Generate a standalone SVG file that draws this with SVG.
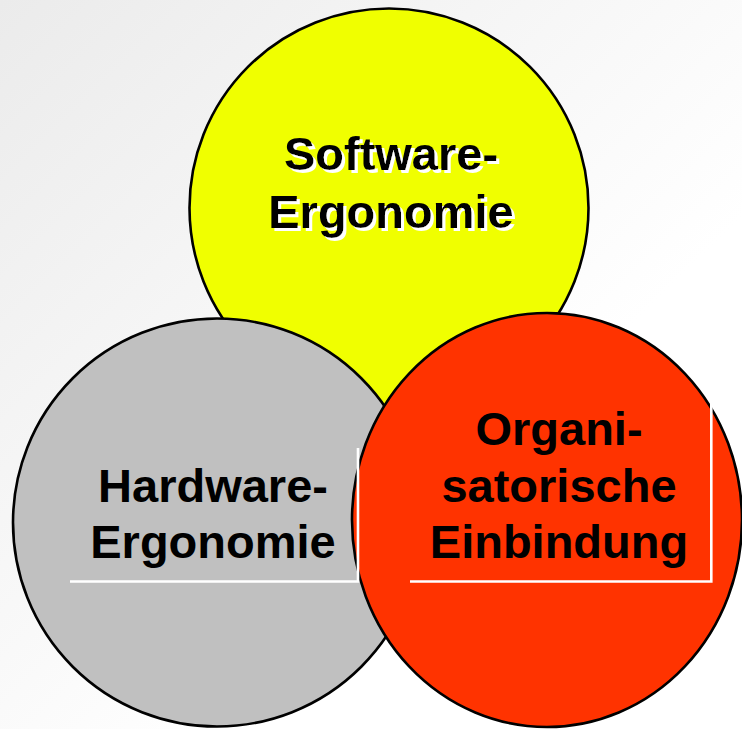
<svg xmlns="http://www.w3.org/2000/svg" width="742" height="729" viewBox="0 0 742 729">
  <defs>
    <linearGradient id="bg" x1="0" y1="0" x2="1" y2="1">
      <stop offset="0" stop-color="#ebebeb"/>
      <stop offset="0.65" stop-color="#ffffff"/>
      <stop offset="1" stop-color="#ffffff"/>
    </linearGradient>
    <filter id="whiteShadow" x="-5%" y="-20%" width="110%" height="140%">
      <feFlood flood-color="#ffffff" result="white"/>
      <feComposite in="white" in2="SourceAlpha" operator="in" result="shape"/>
      <feOffset in="shape" dx="2.5" dy="2.5" result="shadow"/>
      <feMerge>
        <feMergeNode in="shadow"/>
        <feMergeNode in="SourceGraphic"/>
      </feMerge>
    </filter>
  </defs>
  <style>
    .shape { stroke: #000000; stroke-width: 2.6; }
    .lbl { font-family: "Liberation Sans", Arial, Helvetica, sans-serif; font-weight: bold; font-size: 47px; text-anchor: middle; fill: #000000; }
    .edge { stroke: #ffffff; stroke-width: 2.6; fill: none; }
  </style>
  <rect x="0" y="0" width="742" height="729" fill="url(#bg)"/>

  <g id="node-software">
    <circle class="shape" cx="389" cy="208" r="199.5" fill="#f0ff00"/>
    <g filter="url(#whiteShadow)">
      <text class="lbl" x="391" y="170">Software-</text>
      <text class="lbl" x="391" y="228">Ergonomie</text>
    </g>
  </g>

  <g id="node-hardware">
    <circle class="shape" cx="217" cy="522.5" r="204" fill="#c0c0c0"/>
    <text class="lbl" x="213" y="502">Hardware-</text>
    <text class="lbl" x="213" y="558">Ergonomie</text>
  </g>

  <g id="node-organisation">
    <ellipse class="shape" cx="547" cy="520" rx="195" ry="207" fill="#ff3300"/>
    <text class="lbl" x="559" y="445">Organi-</text>
    <text class="lbl" x="559" y="502">satorische</text>
    <text class="lbl" x="559" y="558">Einbindung</text>
  </g>

  <g id="textbox-edges">
    <polyline class="edge" points="70,581.5 358,581.5 358,448"/>
    <polyline class="edge" points="410,581.5 711.3,581.5 711.3,388"/>
  </g>
</svg>
